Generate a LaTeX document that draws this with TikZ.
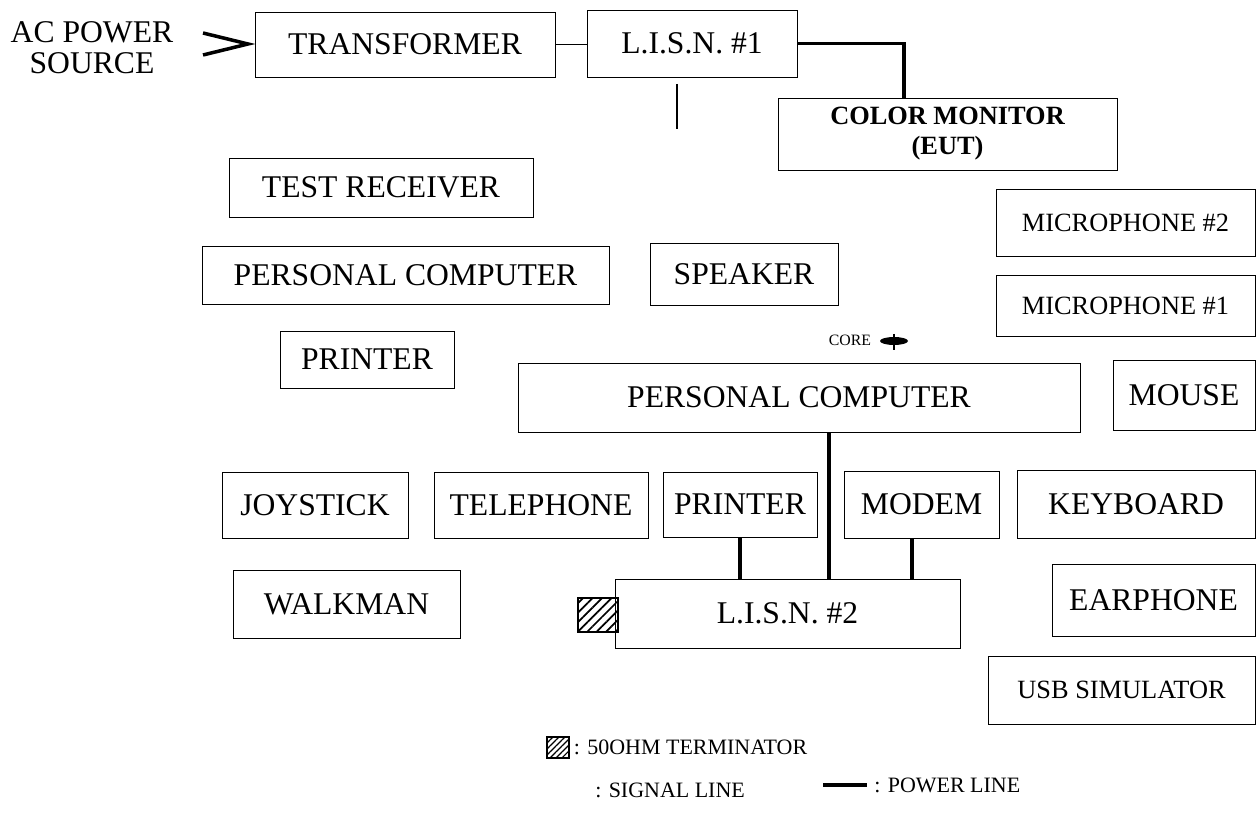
\documentclass[tikz,border=0pt]{standalone}
\usepackage{fontspec}
\setmainfont{Liberation Serif}
\usetikzlibrary{positioning,shapes.geometric,patterns.meta}
\tikzstyle{unit} = [rectangle, draw=black, line width=0.5pt, text centered, inner sep=0pt, font=\fontsize{18}{21}\selectfont]
\tikzstyle{sunit} = [unit, font=\fontsize{15}{18}\selectfont]
\tikzstyle{power} = [line width=2pt]
\tikzstyle{signal} = [line width=0.6pt]
\tikzstyle{legend} = [anchor=west, inner sep=0pt, font=\fontsize{12.5}{14}\selectfont]
\tikzset{
 hatch/.style
  = {draw, line width=0.6pt, inner sep=0pt, pattern={Lines[angle=45, distance=3.8pt, line width=1pt]}},
}

\begin{document}
\begin{tikzpicture}[x=0.02cm, y=-0.02cm]
\useasboundingbox (0,0) rectangle (1256,813);
% mains side
\node (acsrc) [align=center, inner sep=0pt, font=\fontsize{18}{17.6}\selectfont] at (92,48) {AC POWER\\SOURCE};
\node (trans) [unit, minimum width=6.0cm, minimum height=1.3cm] at (405,44.5) {TRANSFORMER};
\node (lisn1) [unit, minimum width=4.2cm, minimum height=1.34cm] at (692,43.5) {L.I.S.N. \#1};
\node (monitor) [unit, align=center, minimum width=6.78cm, minimum height=1.44cm, font=\bfseries\fontsize{15}{17}\selectfont] at (947.5,134) {COLOR MONITOR\\(EUT)};
\draw [line width=2pt, line join=miter] (203,33) -- (248,44) -- (203,55);
\draw [signal, line width=1pt] (trans.east) -- (trans.east -| lisn1.west);
\draw [power] (lisn1.east) -| ([xshift=-0.87cm]monitor.north);
\coordinate (sigtop) at (677,84);
\coordinate (sigbot) at (677,129);
\draw [signal] (sigtop) -- (sigbot);

% support equipment
\node (testrx) [unit, minimum width=6.08cm, minimum height=1.18cm] at (381,187.5) {TEST RECEIVER};
\node (pcup) [unit, minimum width=8.14cm, minimum height=1.16cm] at (405.5,275) {PERSONAL COMPUTER};
\node (speaker) [unit, minimum width=3.76cm, minimum height=1.24cm] at (744,274) {SPEAKER};
\node (printup) [unit, minimum width=3.48cm, minimum height=1.14cm] at (367,359.5) {PRINTER};
\node (mic2) [sunit, minimum width=5.18cm, minimum height=1.34cm] at (1125.5,222.5) {MICROPHONE \#2};
\node (mic1) [sunit, minimum width=5.18cm, minimum height=1.22cm] at (1125.5,305.5) {MICROPHONE \#1};

% computer and peripherals
\node (core) [inner sep=0pt, font=\fontsize{9}{10}\selectfont] at (850,340) {CORE};
\node (ferrite) [ellipse, fill=black, minimum width=0.56cm, minimum height=0.16cm, inner sep=0pt] at (894,341) {};
\draw [signal] ([yshift=0.14cm]ferrite.center) -- ([yshift=-0.18cm]ferrite.center);
\node (pclow) [unit, minimum width=11.24cm, minimum height=1.38cm] at (799,397.5) {PERSONAL COMPUTER};
\node (mouse) [unit, minimum width=2.84cm, minimum height=1.4cm] at (1184,395) {MOUSE};
\node (joystick) [unit, minimum width=3.72cm, minimum height=1.32cm] at (315,505) {JOYSTICK};
\node (phone) [unit, minimum width=4.28cm, minimum height=1.32cm] at (541,505) {TELEPHONE};
\node (printlow) [unit, minimum width=3.08cm, minimum height=1.3cm] at (740,504.5) {PRINTER};
\node (modem) [unit, minimum width=3.1cm, minimum height=1.34cm] at (921.5,504.5) {MODEM};
\node (keyboard) [unit, minimum width=4.76cm, minimum height=1.36cm] at (1136,504) {KEYBOARD};
\node (walkman) [unit, minimum width=4.54cm, minimum height=1.36cm] at (346.5,604) {WALKMAN};
\node (lisn2) [unit, minimum width=6.9cm, minimum height=1.38cm] at (787.5,613.5) {L.I.S.N. \#2};
\node (term) [hatch, minimum width=0.8cm, minimum height=0.68cm] at (598,615) {};
\node (earphone) [unit, minimum width=4.06cm, minimum height=1.44cm] at (1153.5,600) {EARPHONE};
\node (usb) [sunit, minimum width=5.34cm, minimum height=1.36cm] at (1121.5,690) {USB SIMULATOR};
\draw [power] ([xshift=0.6cm]pclow.south) -- ([xshift=0.6cm]pclow.south |- lisn2.north);
\draw [power] (printlow.south) -- (printlow.south |- lisn2.north);
\draw [power] ([xshift=-0.19cm]modem.south) -- ([xshift=-0.19cm]modem.south |- lisn2.north);

% legend
\node (lgterm) [hatch, minimum width=0.44cm, minimum height=0.42cm, pattern={Lines[angle=45, distance=2.4pt, line width=0.7pt]}] at (558,747.5) {};
\node (lgtermtxt) [legend, right=0.08cm of lgterm] {: 50OHM TERMINATOR};
\node (lgsig) [legend] at (595,790) {: SIGNAL LINE};
\coordinate (lgpw) at (823,785);
\node (lgpwtxt) [legend, inner xsep=4pt] at (867,785) {: POWER LINE};
\draw [power] (lgpw) -- (lgpwtxt.west);
\end{tikzpicture}
\end{document}
